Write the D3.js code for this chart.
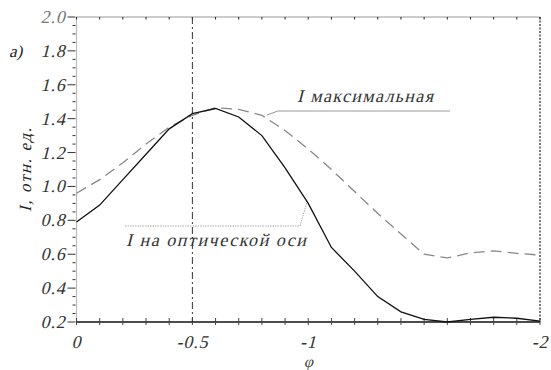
<!DOCTYPE html>
<html>
<head>
<meta charset="utf-8">
<script src="https://cdn.jsdelivr.net/npm/d3@7"></script>
<style>
    body { margin: 0; background: #fff; }
    svg text { font-family: "Liberation Serif", "Times New Roman", Tinos, "DejaVu Serif", serif; font-style: normal; fill: #222; }
</style>
</head>
<body>
<svg id="chart" width="551" height="370"></svg>
<script>
/**
 * Data.
 */
const phi = [0, -0.1, -0.2, -0.3, -0.4, -0.5, -0.6, -0.7, -0.8, -0.9, -1.0,
    -1.1, -1.2, -1.3, -1.4, -1.5, -1.6, -1.7, -1.8, -1.9, -2.0];
const iAxis = [0.79, 0.89, 1.04, 1.19, 1.34, 1.43, 1.46, 1.41, 1.30, 1.11, 0.90,
    0.64, 0.50, 0.35, 0.26, 0.215, 0.20, 0.215, 0.228, 0.222, 0.205];
const iMax = [0.96, 1.04, 1.14, 1.25, 1.35, 1.42, 1.465, 1.455, 1.42, 1.33, 1.22,
    1.10, 0.97, 0.84, 0.72, 0.60, 0.578, 0.608, 0.62, 0.605, 0.595];
const xTicks = [0, -0.5, -1, -2];
const xTickLabels = ['0', '-0.5', '-1', '-2'];
const yTicks = [0.2, 0.4, 0.6, 0.8, 1.0, 1.2, 1.4, 1.6, 1.8, 2.0];
const vLine = -0.5;
const labelMax = 'I максимальная',
    labelAxis = 'I на оптической оси',
    xTitle = 'φ',
    yTitle = 'I, отн. ед.',
    panel = 'а)';

/**
 * Layout.
 */
const margin = { top: 17, right: 11, bottom: 48, left: 76.5 };
const svg = d3.select('#chart');
const width = 551 - margin.left - margin.right,
    height = 370 - margin.top - margin.bottom;

const x = d3.scaleLinear().domain([0, -2]).range([0, width]);
const y = d3.scaleLinear().domain([0.2, 2.0]).range([height, 0]);

// Slanted text placed at (px, py), skewed like an italic
function slanted(parent, px, py, str, rotate) {
    return parent.append('text')
        .attr('transform', 'translate(' + px + ',' + py + ')' + (rotate ? ' rotate(-90)' : '') + ' skewX(-14)')
        .text(str);
}

const g = svg.append('g').attr('transform', 'translate(' + margin.left + ',' + margin.top + ')');

// Frame: left gray, top gray with ticks, right dotted
g.append('line').attr('x1', 0).attr('x2', 0).attr('y1', 0).attr('y2', height)
    .attr('stroke', '#bbb').attr('stroke-width', 1.2);
g.append('line').attr('x1', 0).attr('x2', width).attr('y1', 0).attr('y2', 0)
    .attr('stroke', '#999').attr('stroke-width', 1);
g.append('line').attr('x1', width).attr('x2', width).attr('y1', 0).attr('y2', height)
    .attr('stroke', '#222').attr('stroke-width', 1.2).attr('stroke-dasharray', '2,1.5');

// Top ticks
g.append('g').selectAll('line').data(d3.range(0, 21).map(i => -i / 10)).enter().append('line')
    .attr('x1', d => x(d)).attr('x2', d => x(d))
    .attr('y1', 0).attr('y2', 2.5)
    .attr('stroke', '#222');

// Y axis
const yMinor = d3.range(0, 37).map(i => 0.2 + i * 0.05);
const yAxisG = g.append('g');
yAxisG.selectAll('line').data(yMinor).enter().append('line')
    .attr('x1', (d, i) => i % 4 === 0 ? -9 : -4).attr('x2', -1)
    .attr('y1', d => y(d)).attr('y2', d => y(d))
    .attr('stroke', '#333').attr('stroke-width', 1);
yTicks.forEach(d => {
    slanted(yAxisG, -11, y(d) + 6, d3.format('.1f')(d))
        .attr('text-anchor', 'end')
        .attr('font-size', 18)
        .attr('letter-spacing', 0.8)
        .style('fill', d === 2.0 ? '#777' : '#333');
});

// X axis
const xAxisG = g.append('g').attr('transform', 'translate(0,' + height + ')');
xAxisG.append('line').attr('x1', 0).attr('x2', width).attr('stroke', '#111').attr('stroke-width', 1.6);
xAxisG.selectAll('line.tick').data(d3.range(0, 21).map(i => -i / 10)).enter().append('line')
    .attr('class', 'tick')
    .attr('x1', d => x(d)).attr('x2', d => x(d))
    .attr('y1', -4).attr('y2', 3)
    .attr('stroke', '#444');
xTicks.forEach((d, i) => {
    slanted(xAxisG, x(d), 26, xTickLabels[i])
        .attr('text-anchor', 'middle')
        .attr('font-size', 18)
        .attr('letter-spacing', 0.8)
        .style('fill', '#333');
});

// Titles
slanted(svg, margin.left + x(-1), 367, xTitle)
    .attr('text-anchor', 'middle').attr('font-size', 16).style('fill', '#444');
slanted(svg, 31, 170, yTitle, true)
    .attr('text-anchor', 'middle').attr('font-size', 17)
    .attr('textLength', 84).attr('lengthAdjust', 'spacing');
slanted(svg, 9, 57, panel).attr('font-size', 17);

// Dash-dot vertical line
g.append('line').attr('x1', x(vLine)).attr('x2', x(vLine)).attr('y1', 0).attr('y2', height)
    .attr('stroke', '#333').attr('stroke-width', 1).attr('stroke-dasharray', '7,3,2,3');

// Curves
const line = d3.line().x((d, i) => x(phi[i])).y(d => y(d));
g.append('path').attr('d', line(iMax))
    .attr('fill', 'none').attr('stroke', '#888').attr('stroke-width', 1.3)
    .attr('stroke-dasharray', '11,6');
g.append('path').attr('d', line(iAxis))
    .attr('fill', 'none').attr('stroke', '#111').attr('stroke-width', 1.3);

// Annotations
const ann = svg.append('g');
ann.append('polyline')
    .attr('points', [[267, 115], [278, 111], [450, 111]].join(' '))
    .attr('fill', 'none').attr('stroke', '#999').attr('stroke-width', 1);
slanted(ann, 297, 102, labelMax).attr('font-size', 18)
    .attr('textLength', 136).attr('lengthAdjust', 'spacing').style('fill', '#333');
ann.append('polyline')
    .attr('points', [[125, 226], [300, 226], [307, 202]].join(' '))
    .attr('fill', 'none').attr('stroke', '#aaa').attr('stroke-width', 1).attr('stroke-dasharray', '1.5,1');
slanted(ann, 126, 246, labelAxis).attr('font-size', 18)
    .attr('textLength', 180).attr('lengthAdjust', 'spacing').style('fill', '#333');
</script>
</body>
</html>
